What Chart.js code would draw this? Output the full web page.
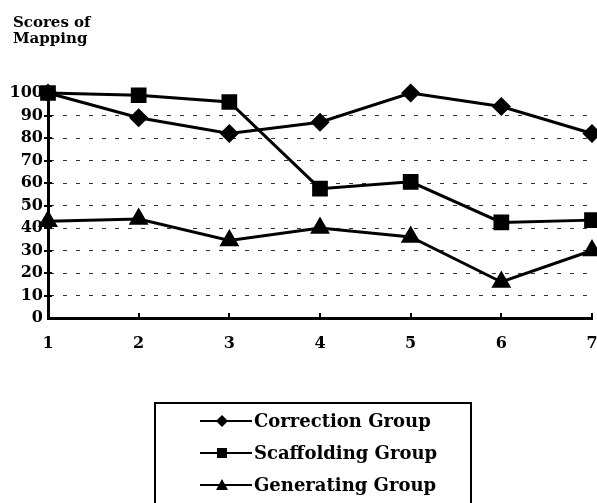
<!DOCTYPE html>
<html>
<head>
<meta charset="utf-8">
<script src="https://cdn.jsdelivr.net/npm/chart.js@4/dist/chart.umd.min.js"></script>
<style>
  html, body { margin: 0; padding: 0; background: #fff; }
  #wrap { width: 597px; height: 503px; position: relative; }
</style>
</head>
<body>
<div id="wrap"><canvas id="c"></canvas></div>
<script>
// ── data ─────────────────────────────────────────────
const sessions    = ['1', '2', '3', '4', '5', '6', '7'];
const correction  = [100, 89, 82, 87, 100, 94, 82];
const scaffolding = [100, 99, 96, 57.5, 60.5, 42.5, 43.5];
const generating  = [43, 44, 34.5, 40, 36, 16, 30];
const yMin = 0, yMax = 100, yStep = 10;
const titleLines  = ['Scores of', 'Mapping'];

const FONT = "'DejaVu Serif', 'Liberation Serif', serif";

// title, axis tick marks and boxed legend
const extras = {
  id: 'extras',
  afterDraw(chart) {
    const ctx = chart.ctx;
    const xs = chart.scales.x, ys = chart.scales.y;
    const area = chart.chartArea;
    ctx.save();

    // y tick crosses
    ctx.strokeStyle = '#000';
    ctx.lineWidth = 2;
    for (let v = yMin + yStep; v < yMax; v += yStep) {
      const py = Math.round(ys.getPixelForValue(v));
      ctx.beginPath();
      ctx.moveTo(area.left - 4, py);
      ctx.lineTo(area.left + 4, py);
      ctx.stroke();
    }
    // x ticks pointing up
    sessions.forEach((_, i) => {
      if (i === 0) return;
      const px = Math.round(xs.getPixelForTick(i));
      ctx.beginPath();
      ctx.moveTo(px, area.bottom);
      ctx.lineTo(px, area.bottom - 5);
      ctx.stroke();
    });

    // axis title
    ctx.fillStyle = '#000';
    ctx.font = 'bold 15px ' + FONT;
    ctx.textAlign = 'left';
    ctx.textBaseline = 'alphabetic';
    titleLines.forEach((t, i) => ctx.fillText(t, 13, 27 + i * 16));

    // legend box
    ctx.lineWidth = 2;
    ctx.strokeRect(155, 403, 316, 130);
    ctx.font = 'bold 18px ' + FONT;
    ctx.textBaseline = 'middle';
    chart.data.datasets.forEach((ds, i) => {
      const y = 421 + i * 32;
      ctx.lineWidth = 2;
      ctx.beginPath();
      ctx.moveTo(200, y);
      ctx.lineTo(252, y);
      ctx.stroke();
      const mx = 222;
      ctx.beginPath();
      if (ds.pointStyle === 'rectRot') {
        ctx.moveTo(mx, y - 6); ctx.lineTo(mx + 6, y); ctx.lineTo(mx, y + 6); ctx.lineTo(mx - 6, y);
      } else if (ds.pointStyle === 'rect') {
        ctx.rect(mx - 5, y - 5, 10, 10);
      } else {
        ctx.moveTo(mx, y - 6); ctx.lineTo(mx + 6, y + 5); ctx.lineTo(mx - 6, y + 5);
      }
      ctx.closePath();
      ctx.fill();
      ctx.fillText(ds.label, 254, y + 1);
    });
    ctx.restore();
  }
};

const common = {
  borderColor: '#000', backgroundColor: '#000',
  pointBackgroundColor: '#000', pointBorderColor: '#000',
  borderWidth: 3, tension: 0, clip: false,
};

new Chart(document.getElementById('c'), {
  type: 'line',
  data: {
    labels: sessions,
    datasets: [
      { ...common, label: 'Correction Group',  data: correction,  pointStyle: 'rectRot',  pointRadius: 7.5 },
      { ...common, label: 'Scaffolding Group', data: scaffolding, pointStyle: 'rect',     pointRadius: 9 },
      { ...common, label: 'Generating Group',  data: generating,  pointStyle: 'triangle', pointRadius: 8.5 },
    ]
  },
  options: {
    responsive: true, maintainAspectRatio: false, animation: false,
    layout: { autoPadding: false, padding: { top: 93, right: 5, bottom: 145, left: 0 } },
    plugins: { legend: { display: false }, tooltip: { enabled: false } },
    scales: {
      x: {
        offset: false,
        afterFit: s => { s.height = 40; s.paddingLeft = 0; s.paddingRight = 0; },
        grid: { display: false },
        border: { display: true, color: '#000', width: 3 },
        ticks: { color: '#000', padding: 8, maxRotation: 0, font: { family: FONT, size: 16, weight: 'bold' } },
      },
      y: {
        min: yMin, max: yMax,
        afterFit: s => { s.width = 48; s.paddingTop = 0; s.paddingBottom = 0; },
        grid: {
          drawTicks: false, lineWidth: 1,
          color: c => (c.tick && (c.tick.value === yMin || c.tick.value === yMax)) ? 'rgba(0,0,0,0)' : '#333',
        },
        border: { display: true, color: '#000', width: 3, dash: [4, 9] },
        ticks: { stepSize: yStep, color: '#000', padding: 5, font: { family: FONT, size: 16, weight: 'bold' } },
      },
    },
  },
  plugins: [extras],
});
</script>
</body>
</html>
